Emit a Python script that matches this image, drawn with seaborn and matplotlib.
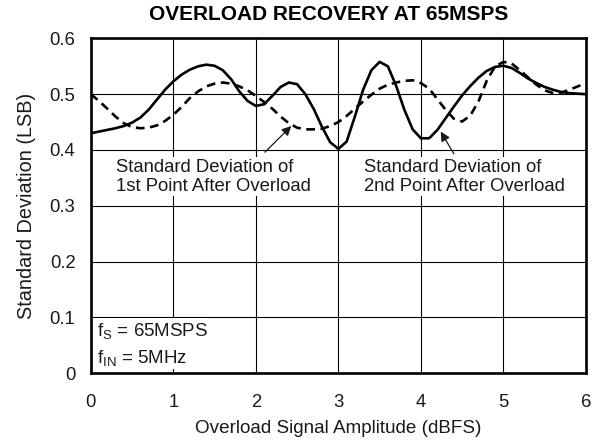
import numpy as np
import pandas as pd
import matplotlib
matplotlib.use("Agg")
import matplotlib.pyplot as plt
from matplotlib.patches import Rectangle
import seaborn as sns

# Overload signal amplitude (dBFS)
amplitude = [0.0, 0.1, 0.2, 0.3, 0.4, 0.5, 0.6, 0.7, 0.8, 0.9,
             1.0, 1.1, 1.2, 1.3, 1.4, 1.5, 1.6, 1.7, 1.8, 1.9,
             2.0, 2.1, 2.2, 2.3, 2.4, 2.5, 2.6, 2.7, 2.8, 2.9,
             3.0, 3.1, 3.2, 3.3, 3.4, 3.5, 3.6, 3.7, 3.8, 3.9,
             4.0, 4.1, 4.2, 4.3, 4.4, 4.5, 4.6, 4.7, 4.8, 4.9,
             5.0, 5.1, 5.2, 5.3, 5.4, 5.5, 5.6, 5.7, 5.8, 5.9, 6.0]

# Standard deviation of the 1st point after overload (LSB)
std_first = [0.500, 0.488, 0.474, 0.460, 0.448, 0.441, 0.439, 0.440, 0.444, 0.452,
             0.463, 0.477, 0.493, 0.505, 0.514, 0.519, 0.521, 0.519, 0.514, 0.507,
             0.497, 0.486, 0.474, 0.460, 0.448, 0.440, 0.437, 0.437, 0.438, 0.443,
             0.450, 0.461, 0.474, 0.487, 0.499, 0.510, 0.517, 0.521, 0.524, 0.525,
             0.520, 0.510, 0.491, 0.472, 0.456, 0.451, 0.462, 0.488, 0.525, 0.550,
             0.558, 0.555, 0.543, 0.530, 0.517, 0.507, 0.502, 0.503, 0.508, 0.514, 0.520]

# Standard deviation of the 2nd point after overload (LSB)
std_second = [0.430, 0.433, 0.436, 0.439, 0.443, 0.449, 0.458, 0.472, 0.490, 0.508,
              0.523, 0.535, 0.544, 0.550, 0.553, 0.551, 0.543, 0.527, 0.505, 0.488,
              0.479, 0.482, 0.497, 0.513, 0.521, 0.518, 0.500, 0.474, 0.442, 0.414,
              0.402, 0.415, 0.460, 0.508, 0.543, 0.558, 0.550, 0.515, 0.472, 0.437,
              0.421, 0.421, 0.436, 0.457, 0.478, 0.498, 0.515, 0.530, 0.542, 0.549,
              0.551, 0.547, 0.538, 0.528, 0.520, 0.513, 0.508, 0.504, 0.502, 0.501, 0.500]

x_ticks = [0, 1, 2, 3, 4, 5, 6]
y_ticks = [0, 0.1, 0.2, 0.3, 0.4, 0.5, 0.6]
y_tick_labels = ["0", "0.1", "0.2", "0.3", "0.4", "0.5", "0.6"]

sns.set_style("white")
plt.rcParams["font.family"] = ["Liberation Sans", "DejaVu Sans"]
plt.rcParams["mathtext.fontset"] = "custom"
plt.rcParams["mathtext.rm"] = "Liberation Sans"
plt.rcParams["mathtext.it"] = "Liberation Sans"

ink = "#1a1a1a"

fig = plt.figure(figsize=(6.01, 4.42), dpi=100)
ax = fig.add_axes([0.151, 0.156, 0.824, 0.757])

df = pd.DataFrame({"amp": amplitude, "first": std_first, "second": std_second})

sns.lineplot(data=df, x="amp", y="first", ax=ax, color="black",
             linewidth=1.9, linestyle=(0, (3.3, 2.1)), zorder=3)
sns.lineplot(data=df, x="amp", y="second", ax=ax, color="black",
             linewidth=1.9, zorder=4)

ax.set_xlim(0, 6)
ax.set_ylim(0, 0.6)
ax.set_xticks(x_ticks)
ax.set_yticks(y_ticks)
ax.set_yticklabels(y_tick_labels)
ax.grid(True, color="black", linewidth=0.8)
ax.set_axisbelow(True)
ax.tick_params(axis="both", length=0, labelsize=13.3, colors=ink)
ax.tick_params(axis="y", pad=11)
ax.tick_params(axis="x", pad=15)
for s in ax.spines.values():
    s.set_visible(True)
    s.set_linewidth(1.9)
    s.set_color("black")

ax.set_xlabel("Overload Signal Amplitude (dBFS)", fontsize=13.6, color=ink)
ax.xaxis.set_label_coords(0.5, -0.14)
ax.set_ylabel("Standard Deviation (LSB)", fontsize=14.3, color=ink, labelpad=10)
fig.text(329 / 601, 1 - 15 / 442, "OVERLOAD RECOVERY AT 65MSPS", fontsize=15,
         fontweight="bold", color="black", ha="center", va="center")

label_bg = dict(facecolor="white", edgecolor="none", pad=1.0)
ax.text(0.30, 0.352, "Standard Deviation of\n1st Point After Overload",
        fontsize=13.3, color=ink, ha="left", va="center", linespacing=1.17,
        bbox=label_bg, zorder=5)
ax.text(3.31, 0.352, "Standard Deviation of\n2nd Point After Overload",
        fontsize=13.3, color=ink, ha="left", va="center", linespacing=1.17,
        bbox=label_bg, zorder=5)

arrow = dict(arrowstyle="-|>", color=ink, lw=0.9, mutation_scale=14,
             shrinkA=0, shrinkB=0)
ax.annotate("", xy=(2.43, 0.443), xytext=(2.11, 0.396), arrowprops=arrow, zorder=6)
ax.annotate("", xy=(4.24, 0.433), xytext=(4.40, 0.393), arrowprops=arrow, zorder=6)

# white panel behind the operating-condition notes
ax.add_patch(Rectangle((0, 0.008), 1.45, 0.090, facecolor="white",
                       edgecolor="none", zorder=1))
ax.text(0.07, 0.076, r"f$_\mathregular{S}$ = 65MSPS", fontsize=13.5, color=ink,
        ha="left", va="center", zorder=5)
ax.text(0.07, 0.027, r"f$_\mathregular{IN}$ = 5MHz", fontsize=13.5, color=ink,
        ha="left", va="center", zorder=5)

fig.savefig("out.png", dpi=100)
